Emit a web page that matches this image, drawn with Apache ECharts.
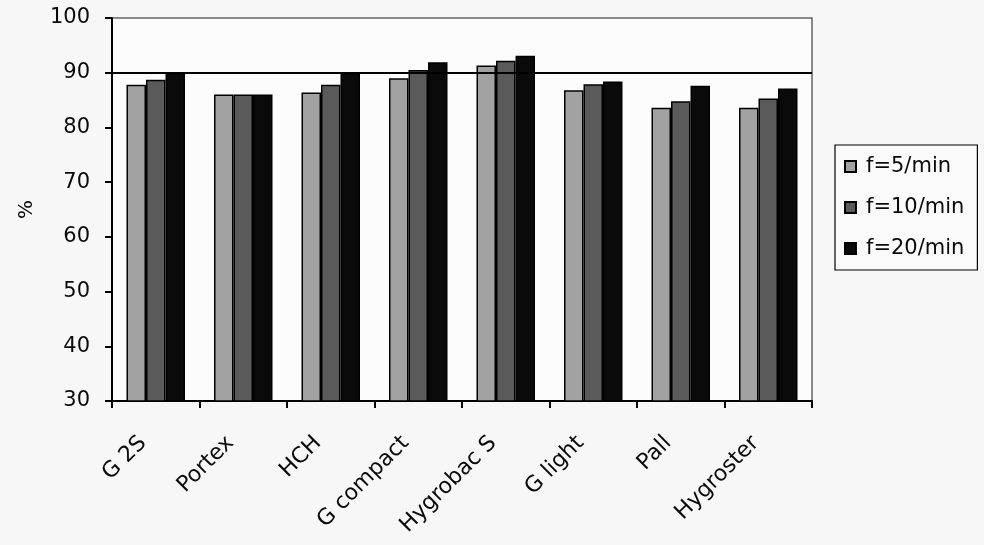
<!DOCTYPE html>
<html><head><meta charset="utf-8">
<script src="https://cdn.jsdelivr.net/npm/echarts@6/dist/echarts.min.js"></script>
<style>html,body{margin:0;padding:0;background:#f7f7f7}#c{width:984px;height:545px}</style>
</head><body><div id="c"></div>
<script>
const categories = ["G 2S", "Portex", "HCH", "G compact", "Hygrobac S", "G light", "Pall", "Hygroster"];
const seriesNames = ["f=5/min", "f=10/min", "f=20/min"];
const f5 = [87.8, 86.0, 86.4, 89.0, 91.3, 86.8, 83.6, 83.6];
const f10 = [88.7, 86.0, 87.8, 90.5, 92.2, 87.9, 84.8, 85.3];
const f20 = [90.0, 86.0, 90.0, 91.9, 93.1, 88.4, 87.6, 87.1];
const refLine = 90;
const colors = ["#a2a2a2", "#5a5a5a", "#0a0a0a"];
const values = [f5, f10, f20];
const FONT = "DejaVu Sans";

const chart = echarts.init(document.getElementById('c'), null, {renderer: 'canvas'});
const series = values.map((v, i) => ({
  name: seriesNames[i], type: 'bar', data: v, barWidth: 19.5, barGap: '0%', z: 3,
  itemStyle: {color: colors[i], borderColor: '#000', borderWidth: 1.5}
}));
series.push({
  name: 'ref', type: 'line', data: [], z: 1, silent: true,
  markLine: {symbol: 'none', silent: true, label: {show: false},
    lineStyle: {color: '#000', width: 2, type: 'solid'}, data: [{yAxis: refLine}]}
});
chart.setOption({
  backgroundColor: '#f7f7f7',
  animation: false,
  grid: {left: 112, right: 172, top: 18, bottom: 144, show: true, backgroundColor: '#fcfcfc', borderColor: '#666', borderWidth: 1.5},
  legend: {
    data: seriesNames, orient: 'vertical', left: 835, top: 145,
    padding: [11, 13, 11, 9], itemGap: 20, itemWidth: 11, itemHeight: 11,
    backgroundColor: '#fafafa', borderColor: '#000', borderWidth: 1.2, borderRadius: 0,
    textStyle: {fontFamily: FONT, fontSize: 21, color: '#0a0a0a', padding: [0, 0, 0, 5]}, icon: 'rect'
  },
  xAxis: {
    type: 'category', data: categories,
    axisLine: {lineStyle: {color: '#000', width: 2}},
    axisTick: {show: true, length: 7, lineStyle: {color: '#000', width: 2}, alignWithLabel: false},
    axisLabel: {rotate: 45, margin: 26, padding: [0, 18, 0, 0], fontFamily: FONT, fontSize: 22, color: '#0a0a0a', interval: 0}
  },
  yAxis: {
    type: 'value', min: 30, max: 100, interval: 10,
    name: '%', nameLocation: 'middle', nameGap: 75, nameRotate: 90,
    nameTextStyle: {fontFamily: FONT, fontSize: 20, color: '#0a0a0a'},
    axisLine: {show: true, lineStyle: {color: '#000', width: 2}},
    axisTick: {show: true, length: 7, lineStyle: {color: '#000', width: 2}},
    axisLabel: {margin: 22, fontFamily: FONT, fontSize: 21, color: '#0a0a0a'},
    splitLine: {show: false}
  },
  series: series
});
</script></body></html>
